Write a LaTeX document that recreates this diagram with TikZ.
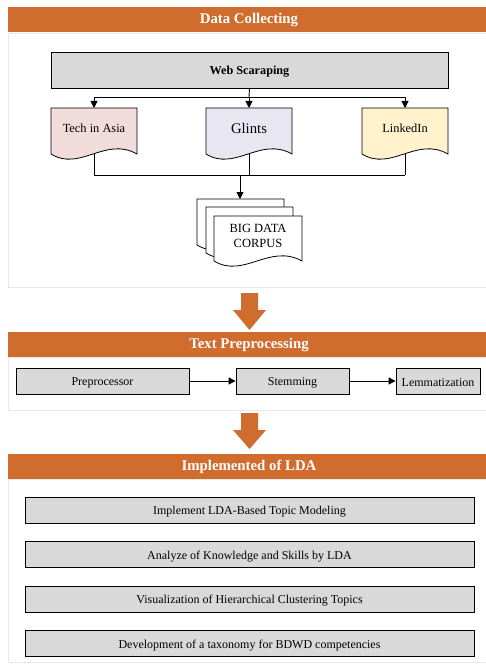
\documentclass[tikz,border=0pt]{standalone}
\usepackage{fontspec}
\setmainfont{Liberation Serif}
\usetikzlibrary{arrows.meta}
\definecolor{org}{RGB}{208,108,45}
\definecolor{boxgray}{RGB}{217,217,217}
\definecolor{panelline}{RGB}{232,232,232}
\definecolor{pinkf}{RGB}{242,220,219}
\definecolor{lavf}{RGB}{232,230,240}
\definecolor{yelf}{RGB}{255,242,204}
\newcommand\docshape[5]{%
  \filldraw[fill=#1, draw=black, line width=0.8pt]
    (#2,#3) -- (#4,#3) -- (#4,#5)
    .. controls ({#4-0.37*(#4-#2)},{#5-18}) and ({#2+0.34*(#4-#2)},{#5+18}) .. (#2,#5) -- cycle;}
\newcommand\lowtxt[1]{\raisebox{-2pt}[\height][\depth]{#1}}
\begin{document}
\begin{tikzpicture}[x=1pt,y=-1pt,
  banner/.style={fill=org, draw=none},
  bannertext/.style={text=white, font=\fontsize{14.8}{17}\selectfont\bfseries, inner sep=0pt},
  panel/.style={draw=panelline, line width=0.8pt},
  gbox/.style={draw=black, fill=boxgray, line width=0.8pt, inner sep=0pt, font=\fontsize{12}{14}\selectfont},
  dtext/.style={inner sep=0pt, align=center, font=\fontsize{12.4}{14}\selectfont},
  conn/.style={draw=black, line width=0.9pt},
  arr/.style={conn, -{Triangle[length=7pt,width=7pt]}},
  bigarrow/.style={fill=org, draw=none}]
\useasboundingbox (0,0) rectangle (485,671);
\fill[white] (0,0) rectangle (485,671);

% ---------- Data Collecting ----------
\fill[banner] (8,7) rectangle (490,32);
\node[bannertext] (h1) at (249,20) {Data Collecting};
\draw[panel] (8,33) rectangle (490,287);

\node[gbox, minimum width=397pt, minimum height=36pt, font=\fontsize{12.2}{14}\selectfont\bfseries] (web) at (249.5,70) {\lowtxt{Web Scaraping}};

\coordinate (split) at (249,97);
\coordinate (splitL) at (94,97);
\coordinate (splitR) at (405,97);
\node[dtext] (tech) at (94,128) {Tech in Asia};
\node[dtext, font=\fontsize{14.7}{16}\selectfont] (glints) at (249,128) {Glints};
\node[dtext] (linkedin) at (405,128) {LinkedIn};
\coordinate (join) at (240,175);
\coordinate (joinL) at (94,175);
\coordinate (joinR) at (405,175);
\coordinate (corpustop) at (240,199);

\draw[conn] (web.south) -- (split);
\draw[conn] (splitL) -- (splitR);
\draw[arr] (splitL) -- (94,108);
\draw[arr] (split) -- (249,108);
\draw[arr] (splitR) -- (405,108);

\draw[conn] (tech.center) -- (joinL);
\draw[conn] (glints.center) -- (249,175);
\draw[conn] (linkedin.center) -- (joinR);
\draw[conn] (joinL) -- (joinR);
\draw[arr] (join) -- (corpustop);

\docshape{pinkf}{51}{108}{137}{154}
\docshape{lavf}{206}{108}{292}{154}
\docshape{yelf}{362}{108}{448}{154}
\node[dtext] at (tech) {Tech in Asia};
\node[dtext, font=\fontsize{14.7}{16}\selectfont] at (glints) {Glints};
\node[dtext] at (linkedin) {LinkedIn};

\docshape{white}{197}{199}{284}{245}
\docshape{white}{206}{207}{293}{253}
\docshape{white}{214}{216}{302}{261}
\node[dtext, font=\fontsize{12.5}{14.5}\selectfont] (corpus) at (258,236) {BIG DATA\\CORPUS};

% ---------- arrow 1 ----------
\fill[bigarrow] (241,293) -- (258,293) -- (258,310) -- (266,310) -- (249.5,330) -- (233,310) -- (241,310) -- cycle;

% ---------- Text Preprocessing ----------
\fill[banner] (8,332) rectangle (490,357);
\node[bannertext] (h2) at (249,345) {Text Preprocessing};
\draw[panel] (8,357) rectangle (490,410);

\node[gbox, minimum width=173pt, minimum height=26pt] (pre) at (102.5,381) {\lowtxt{Preprocessor}};
\node[gbox, minimum width=113pt, minimum height=26pt] (stem) at (292.5,381) {\lowtxt{Stemming}};
\node[gbox, minimum width=84pt, minimum height=26pt] (lem) at (438,381) {\lowtxt{Lemmatization}};
\draw[arr] (pre.east) -- (stem.west);
\draw[arr] (stem.east) -- (lem.west);

% ---------- arrow 2 ----------
\fill[bigarrow] (241,413) -- (258,413) -- (258,430) -- (266,430) -- (249.5,449) -- (233,430) -- (241,430) -- cycle;

% ---------- Implemented of LDA ----------
\fill[banner] (8,454) rectangle (490,479);
\node[bannertext] (h3) at (249,467) {Implemented of LDA};
\draw[panel] (8,479) rectangle (490,662);

\node[gbox, minimum width=449pt, minimum height=26pt] (l1) at (249.5,510) {\lowtxt{Implement LDA-Based Topic Modeling}};
\node[gbox, minimum width=449pt, minimum height=26pt] (l2) at (249.5,554.5) {\lowtxt{Analyze of Knowledge and Skills by LDA}};
\node[gbox, minimum width=449pt, minimum height=26pt] (l3) at (249.5,599) {\lowtxt{Visualization of Hierarchical Clustering Topics}};
\node[gbox, minimum width=449pt, minimum height=26pt] (l4) at (249.5,643.5) {\lowtxt{Development of a taxonomy for BDWD competencies}};
\end{tikzpicture}
\end{document}
